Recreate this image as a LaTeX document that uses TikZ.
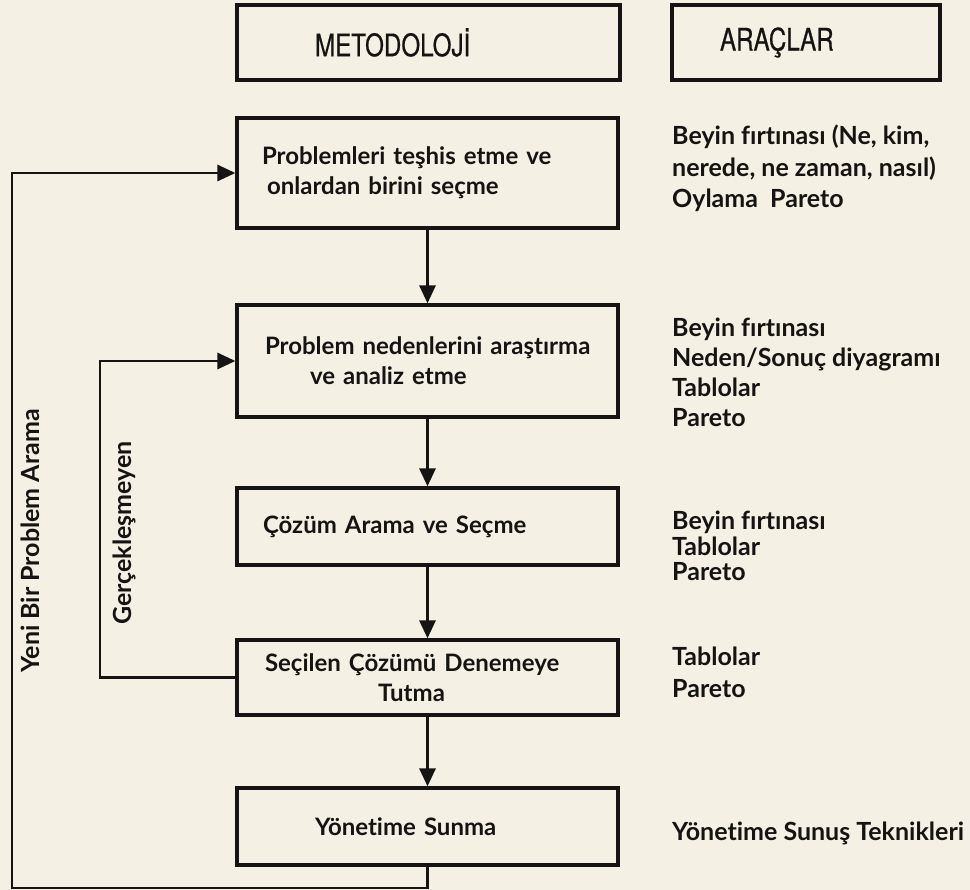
\documentclass[tikz,border=0pt]{standalone}
\usepackage{fontspec}
\setmainfont{Lato}[Ligatures={NoCommon}]
\newfontfamily\condfont[FakeStretch=0.78,FakeBold=0.6]{TeX Gyre Heros}
\usetikzlibrary{arrows.meta}
\definecolor{paper}{RGB}{244,241,228}
\definecolor{ink}{RGB}{22,20,18}
\begin{document}
\begin{tikzpicture}[x=1pt,y=-1pt,
  every node/.style={text=ink},
  box/.style={draw=ink, line width=3.2pt, text width=381pt, align=left,
    inner xsep=0pt, inner ysep=0pt, font=\fontsize{24}{30}\selectfont\bfseries},
  headbox/.style={draw=ink, line width=3.2pt, minimum height=75pt, inner sep=0pt,
    align=left, font=\condfont\fontsize{31}{31}\selectfont},
  tools/.style={anchor=west, align=left, inner sep=0pt},
  side/.style={rotate=90, inner sep=0pt, font=\fontsize{25}{26}\selectfont\bfseries},
  link/.style={draw=ink, line width=2.9pt},
  arr/.style={link, -{Triangle[length=18pt,width=16pt]}}]
\fill[paper] (0,0) rectangle (970,890);
\useasboundingbox (0,0) rectangle (970,890);

\node[headbox, text width=383pt] (meth) at (428.5,42.5) {\hspace*{78pt}METODOLOJİ};
\node[headbox, text width=268pt] (tools) at (806,42.5) {\hspace*{48pt}ARAÇLAR};

\node[box, minimum height=110pt] (b1) at (427.5,173) {\hspace*{25pt}Problemleri teşhis etme ve\\\hspace*{30pt}onlardan birini seçme};
\node[box, minimum height=112pt] (b2) at (427.5,361) {\hspace*{28pt}Problem nedenlerini araştırma\\\hspace*{73pt}ve analiz etme};
\node[box, minimum height=77pt] (b3) at (427.5,526.5) {\hspace*{26pt}Çözüm Arama ve Seçme};
\node[box, minimum height=75pt] (b4) at (427.5,677.5) {\hspace*{28pt}Seçilen Çözümü Denemeye\\\hspace*{141pt}Tutma};
\node[box, minimum height=77pt] (b5) at (427.5,826.5) {\hspace*{78pt}Yönetime Sunma};

\node[tools, font=\fontsize{25}{31.5}\selectfont\bfseries] (t1) at (672,168.5) {Beyin fırtınası (Ne, kim,\\nerede, ne zaman, nasıl)\\Oylama\ \ Pareto};
\node[tools, font=\fontsize{25}{30}\selectfont\bfseries] (t2) at (672,372.5) {Beyin fırtınası\\Neden/Sonuç diyagramı\\Tablolar\\Pareto};
\node[tools, font=\fontsize{25}{25.5}\selectfont\bfseries] (t3) at (672,546) {Beyin fırtınası\\Tablolar\\Pareto};
\node[tools, font=\fontsize{25}{32}\selectfont\bfseries] (t4) at (672,672) {Tablolar\\Pareto};
\node[tools, font=\fontsize{25}{30}\selectfont\bfseries] (t5) at (672,833) {Yönetime Sunuş Teknikleri};

\node[side] (l1) at (30,541) {Yeni Bir Problem Arama};
\node[side] (l2) at (124,533) {Gerçekleşmeyen};

\draw[arr] (b1) -- (b2);
\draw[arr] (b2) -- (b3);
\draw[arr] (b3) -- (b4);
\draw[arr] (b4) -- (b5);

\coordinate (ib) at (100,361);
\draw[arr] (b4.west) -| (ib) -- (b2.west);
\coordinate (ob) at (12,888);
\draw[arr] (b5.south) |- (ob) |- (b1.west);
\end{tikzpicture}
\end{document}
